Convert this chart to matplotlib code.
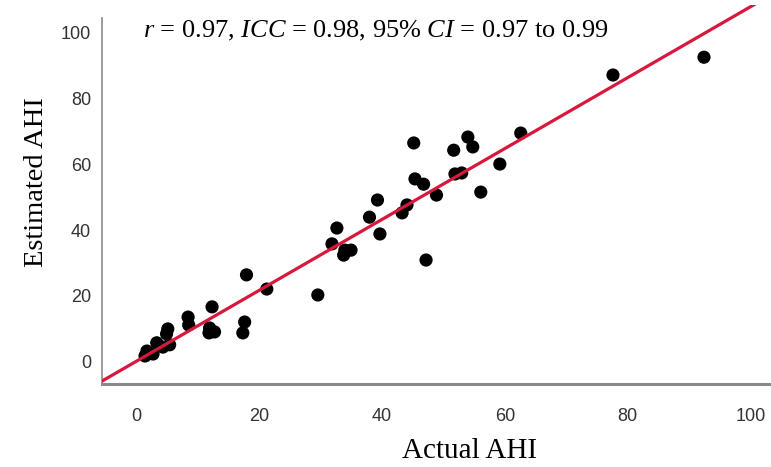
import numpy as np
import matplotlib
matplotlib.use("Agg")
import matplotlib.pyplot as plt

# actual vs estimated AHI per subject
actual_ahi = [92.4, 77.6, 62.6, 59.2, 56.1, 54.0, 54.8, 51.7, 51.9, 53.0,
              45.2, 45.4, 46.8, 48.9, 44.1, 43.3, 47.2, 39.3, 38.0, 32.7,
              39.7, 31.9, 34.0, 35.0, 33.8, 29.6, 21.3, 18.0, 12.4, 17.7,
              17.4, 12.0, 12.8, 11.9, 8.5, 8.6, 5.2, 5.0, 3.4, 4.4,
              1.8, 2.8, 1.5, 5.5]
estimated_ahi = [92.4, 87.0, 69.4, 60.0, 51.5, 68.2, 65.2, 64.2, 57.0, 57.3,
                 66.4, 55.5, 53.9, 50.6, 47.6, 45.2, 30.9, 49.1, 43.9, 40.6,
                 38.8, 35.8, 33.9, 33.9, 32.4, 20.3, 22.1, 26.4, 16.7, 12.1,
                 8.8, 10.3, 9.1, 8.8, 13.6, 11.2, 10.0, 8.5, 5.8, 4.5,
                 3.3, 2.4, 1.8, 5.2]
ticks = [0, 20, 40, 60, 80, 100]
stats_text = r"$r$ = 0.97, $ICC$ = 0.98, 95% $CI$ = 0.97 to 0.99"

plt.rcParams.update({
    "mathtext.fontset": "custom",
    "mathtext.rm": "Liberation Serif",
    "mathtext.it": "Liberation Serif:italic",
})

x = np.array(actual_ahi)
y = np.array(estimated_ahi)
slope, intercept = np.polyfit(x, y, 1)

fig = plt.figure(figsize=(7.71, 4.67), dpi=100)
ax = fig.add_axes([0.1323, 0.1777, 0.8677, 0.8113])
xlim = (-5.5, 103.3)
ax.set_xlim(*xlim)
ax.set_ylim(-6.7, 108.2)

ax.scatter(x, y, s=90, color="black", edgecolors="none", zorder=3)
xs = np.array(xlim)
ax.plot(xs, intercept + slope * xs, color="#d8173d", lw=2.3, zorder=4)

ax.text(1.1, 100.4, stats_text, family="Liberation Serif", fontsize=19,
        ha="left", va="center")

ax.set_xticks(ticks)
ax.set_yticks(ticks)
ax.tick_params(length=0, labelsize=13, labelcolor="#333333")
ax.tick_params(axis="x", pad=17)
ax.tick_params(axis="y", pad=8)
for lab in ax.get_xticklabels() + ax.get_yticklabels():
    lab.set_family("Liberation Sans")

for s in ("top", "right"):
    ax.spines[s].set_visible(False)
ax.spines["left"].set_color("#8a8a8a")
ax.spines["left"].set_linewidth(1.2)
ax.spines["left"].set_bounds(-6.7, 104.2)
ax.spines["bottom"].set_color("#8a8a8a")
ax.spines["bottom"].set_linewidth(2.2)

ax.set_xlabel("Actual AHI", family="Liberation Serif", fontsize=21)
ax.set_ylabel("Estimated AHI", family="Liberation Serif", fontsize=20.5)
ax.xaxis.set_label_coords(0.549, -0.1425)
ax.yaxis.set_label_coords(-0.079, 0.533)

fig.savefig("out.png", dpi=100)
